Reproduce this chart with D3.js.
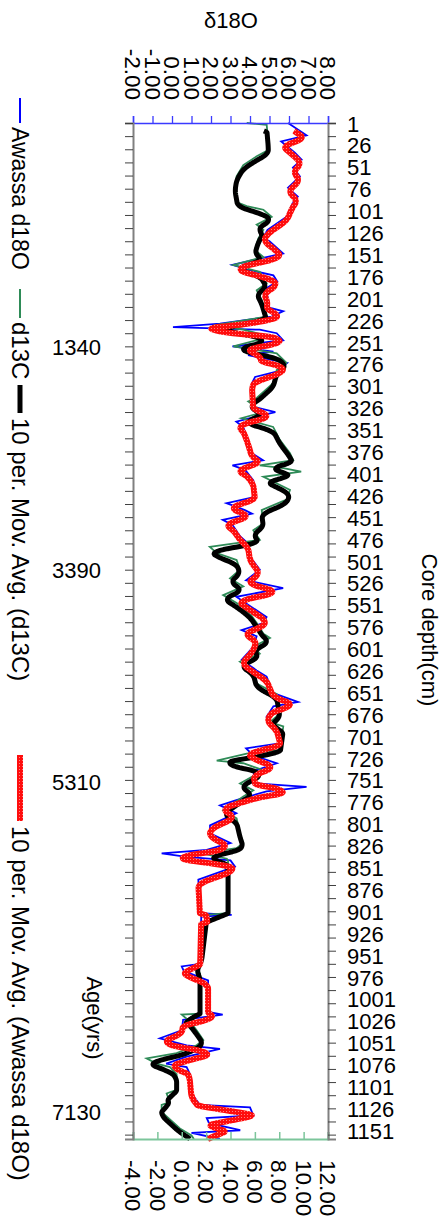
<!DOCTYPE html>
<html>
<head>
<meta charset="utf-8">
<script src="https://cdn.jsdelivr.net/npm/d3@7"></script>
<style>
  body { margin: 0; background: #fff; }
  svg { display: block; }
  text { font-family: "Liberation Sans", Arial, sans-serif; fill: #000; }
</style>
</head>
<body>
<div id="chart"></div>
<script>
// Awassa core: raw isotope series (depth in cm, value in per mil)
const d18oDepth = [0, 14, 21, 34, 42, 51, 61, 74, 84, 91, 107, 122, 131, 135, 149, 154, 162, 168, 174, 181,
  191, 198, 210, 215, 221, 229, 233, 236, 240, 248, 255, 261, 265, 274, 284, 290, 297, 324, 330, 337,
  341, 347, 362, 377, 385, 391, 396, 408, 427, 434, 442, 446, 453, 459, 472, 480, 495, 510, 522, 531,
  541, 550, 564, 571, 579, 586, 598, 613, 625, 632, 651, 661, 666, 678, 689, 708, 714, 722, 731, 740,
  754, 758, 763, 773, 779, 788, 802, 811, 822, 830, 834, 838, 842, 849, 864, 902, 904, 906, 960, 963,
  968, 976, 979, 1015, 1018, 1024, 1036, 1045, 1053, 1057, 1066, 1074, 1078, 1085, 1108, 1121, 1124, 1133, 1136, 1142,
  1150, 1153, 1160];
const d18oValue = [5.95, 6.9, 5.6, 6.3, 6.65, 6.2, 6.56, 5.95, 6.45, 6.2, 5.88, 4.9, 4.67, 5.0, 5.7, 4.67, 3.1, 4.0, 5.2, 5.4,
  4.67, 4.9, 4.85, 5.7, 5.1, 2.46, 0.05, 4.5, 5.37, 5.7, 3.1, 5.2, 3.9, 5.9, 5.36, 4.26, 4.1, 4.17, 5.3, 4.0,
  3.3, 3.65, 3.9, 4.1, 4.67, 3.1, 3.75, 4.17, 4.26, 2.8, 3.74, 4.1, 2.6, 3.1, 3.5, 3.9, 4.0, 4.5, 3.8, 5.7,
  3.3, 3.9, 4.85, 4.67, 3.57, 4.34, 4.17, 3.57, 4.34, 4.85, 5.2, 6.46, 5.2, 4.85, 5.37, 5.6, 3.8, 4.17, 5.37, 4.17,
  4.3, 6.9, 4.85, 3.3, 2.46, 3.3, 1.95, 1.95, 3.0, 1.78, -0.53, 0.75, 3.0, 3.23, 1.35, 1.44, 3.06, 1.5, 1.44, 0.5,
  0.6, 1.5, 1.85, 1.85, 2.6, 0.57, 0.5, -0.62, 0.75, 2.46, 0.75, -0.3, 0.75, 0.9, 1.0, 1.43, 4.0, 4.17, 1.78, 1.9,
  3.5, 1.0, 2.46];

const d13cDepth = [0, 2, 23, 31, 38, 48, 61, 73, 91, 95, 99, 107, 116, 122, 132, 145, 153, 162, 170, 183,
  191, 202, 221, 231, 236, 244, 255, 263, 274, 282, 297, 314, 318, 330, 337, 347, 362, 377, 385, 391,
  394, 398, 404, 419, 430, 442, 457, 465, 476, 484, 491, 499, 510, 520, 529, 539, 548, 560, 571, 583,
  588, 598, 606, 615, 625, 640, 652, 674, 684, 689, 716, 720, 728, 731, 739, 754, 762, 769, 777, 785,
  794, 800, 812, 822, 828, 834, 840, 842, 902, 904, 952, 964, 971, 1017, 1018, 1026, 1036, 1047, 1053, 1062,
  1068, 1074, 1078, 1086, 1104, 1108, 1118, 1121, 1129, 1148, 1156, 1160];
const d13cValue = [5.33, 6.97, 7.1, 7.1, 6.15, 5.05, 4.5, 4.37, 4.6, 5.33, 6.7, 7.38, 6.15, 6.7, 6.28, 6.0, 6.7, 4.23, 6.4, 6.97,
  6.15, 6.56, 6.97, 2.6, 5.05, 7.24, 4.23, 7.79, 8.6, 7.79, 7.5, 6.15, 5.46, 6.7, 4.9, 7.5, 8.06, 8.88, 9.15, 6.4,
  8.33, 9.8, 6.7, 8.88, 8.6, 6.56, 6.7, 5.87, 6.4, 2.3, 2.87, 4.5, 4.78, 3.96, 5.05, 3.4, 4.5, 5.6, 6.15, 6.7,
  7.24, 5.87, 6.4, 4.78, 5.87, 6.15, 7.79, 8.06, 7.24, 8.33, 8.06, 5.33, 2.87, 5.05, 6.7, 4.78, 5.87, 5.05, 4.23, 3.4,
  4.5, 4.6, 4.8, 5.05, 4.5, 1.63, 3.7, 3.8, 3.8, 2.05, 1.63, 1.22, 1.5, 1.5, 0.0, 0.68, 1.22, 1.77, 1.22, -0.42,
  -2.88, -2.06, -0.97, -0.42, -0.42, -1.24, -0.97, -1.65, -1.65, -0.15, 0.8, 1.0];

const depthLabels = [1, 26, 51, 76, 101, 126, 151, 176, 201, 226, 251, 276, 301, 326, 351, 376, 401, 426, 451, 476,
  501, 526, 551, 576, 601, 626, 651, 676, 701, 726, 751, 776, 801, 826, 851, 876, 901, 926, 951, 976,
  1001, 1026, 1051, 1076, 1101, 1126, 1151];
const ageLabels = ["1340", "3390", "5310", "7130"];
const ageDepths = [256, 511, 753, 1129];
const d18oTicks = [-2, -1, 0, 1, 2, 3, 4, 5, 6, 7, 8];
const d13cTicks = [-4, -2, 0, 2, 4, 6, 8, 10, 12];
const legendNames = ["Awassa d18O", "d13C", "10 per. Mov. Avg. (d13C)", "10 per. Mov. Avg. (Awassa d18O)"];

const MA_PERIOD = 10; // trendline period (1 cm steps)

const width = 446, height = 1226;
const plot = { left: 133, right: 328, top: 123, bottom: 1139 };

const svg = d3.select('#chart').append('svg')
  .attr('width', width)
  .attr('height', height);

// red trendline has a speckled look
const pat = svg.append('defs').append('pattern')
  .attr('id', 'redTex')
  .attr('width', 3).attr('height', 3)
  .attr('patternUnits', 'userSpaceOnUse');
pat.append('rect').attr('width', 3).attr('height', 3).attr('fill', '#ff0d0d');
pat.append('rect').attr('x', 1).attr('y', 1).attr('width', 1).attr('height', 1).attr('fill', '#ff8080');

// chart is drawn "sideways": depth runs down the page
const y = d3.scaleLinear().domain([0, 1160]).range([plot.top, plot.bottom]);
const xO = d3.scaleLinear().domain([-2, 8]).range([plot.left, plot.right]);
const xC = d3.scaleLinear().domain([-4, 12]).range([plot.left, plot.right]);

// trailing moving average trendline, like the spreadsheet's
function movingAvg(depths, values) {
  const f = d3.scaleLinear().domain(depths).range(values);
  const out = [];
  for (let d = depths[0] + MA_PERIOD - 1; d <= depths[depths.length - 1]; d++) {
    out.push([d, d3.mean(d3.range(d - MA_PERIOD + 1, d + 1), t => f(t))]);
  }
  return out;
}

const d18o = d18oDepth.map((d, i) => [d, d18oValue[i]]);
const d13c = d13cDepth.map((d, i) => [d, d13cValue[i]]);
const maC = movingAvg(d13cDepth, d13cValue);
const maO = movingAvg(d18oDepth, d18oValue);

const lineO = d3.line().x(d => xO(d[1])).y(d => y(d[0]));
const lineC = d3.line().x(d => xC(d[1])).y(d => y(d[0]));

const series = svg.append('g').attr('class', 'series');
series.append('path').datum(d18o).attr('d', lineO)
  .attr('fill', 'none').attr('stroke', '#0000ff').attr('stroke-width', 1.8);
series.append('path').datum(d13c).attr('d', lineC)
  .attr('fill', 'none').attr('stroke', '#2e8b57').attr('stroke-width', 1.8);
series.append('path').datum(maC).attr('d', lineC)
  .attr('fill', 'none').attr('stroke', '#000').attr('stroke-width', 5)
  .attr('stroke-linejoin', 'round');
series.append('path').datum(maO).attr('d', lineO)
  .attr('fill', 'none').attr('stroke', 'url(#redTex)').attr('stroke-width', 6)
  .attr('stroke-linejoin', 'round');

// top axis (d18O)
const topAxis = svg.append('g')
  .attr('transform', `translate(0,${plot.top})`)
  .call(d3.axisTop(xO).tickValues(d18oTicks).tickSize(7).tickFormat(''));
topAxis.select('.domain').attr('stroke', '#3a3aff').attr('stroke-width', 1.5);
topAxis.selectAll('.tick line').attr('stroke', '#3a3aff').attr('stroke-width', 1.3);
svg.append('g').selectAll('text').data(d18oTicks).join('text')
  .attr('transform', d => `translate(${xO(d)},100) rotate(90)`)
  .attr('text-anchor', 'end').attr('dy', '0.35em')
  .attr('font-size', 22.5)
  .text(d => d.toFixed(2));

// bottom axis (d13C)
const botAxis = svg.append('g')
  .attr('transform', `translate(0,${plot.bottom})`)
  .call(d3.axisTop(xC).tickValues(d13cTicks).tickSize(7).tickFormat(''));
botAxis.select('.domain').attr('stroke', '#7cc59b').attr('stroke-width', 2);
botAxis.selectAll('.tick line').attr('stroke', '#7cc59b').attr('stroke-width', 1.5);
svg.append('g').selectAll('text').data(d13cTicks).join('text')
  .attr('transform', d => `translate(${xC(d)},1160) rotate(90)`)
  .attr('text-anchor', 'start').attr('dy', '0.35em')
  .attr('font-size', 22.5)
  .text(d => d.toFixed(2));

// depth ticks every 15 cm on both side axes
const tickDepths = d3.range(0, 1161, 15);
const rightAxis = svg.append('g')
  .attr('transform', `translate(${plot.right},0)`)
  .call(d3.axisRight(y).tickValues(tickDepths).tickSize(8).tickFormat(''));
const leftAxis = svg.append('g')
  .attr('transform', `translate(${plot.left},0)`)
  .call(d3.axisLeft(y).tickValues(tickDepths).tickSize(8).tickFormat(''));
[rightAxis, leftAxis].forEach(a => {
  a.select('.domain').attr('stroke', '#808080').attr('stroke-width', 2);
  a.selectAll('.tick line').attr('stroke', '#404040').attr('stroke-width', 1);
});

svg.append('g').selectAll('text').data(depthLabels).join('text')
  .attr('x', 347).attr('y', d => y(d)).attr('dy', '0.35em')
  .attr('font-size', 22)
  .text(d => d);

svg.append('g').selectAll('text').data(ageLabels).join('text')
  .attr('x', 101).attr('y', (d, i) => y(ageDepths[i])).attr('dy', '0.35em')
  .attr('text-anchor', 'end')
  .attr('font-size', 22)
  .text(d => d);

// titles
svg.append('text').attr('x', 231).attr('y', 28).attr('text-anchor', 'middle')
  .attr('font-size', 22).text('δ18O');
svg.append('text').attr('transform', 'translate(430,630) rotate(90)')
  .attr('text-anchor', 'middle').attr('dy', '0.35em')
  .attr('font-size', 22).text('Core depth(cm)');
svg.append('text').attr('transform', 'translate(95,1018) rotate(90)')
  .attr('text-anchor', 'middle').attr('dy', '0.35em')
  .attr('font-size', 22).text('Age(yrs)');

// legend, rotated like the rest of the chart
const legendStyles = [
  { stroke: '#0000ff', w: 2 },
  { stroke: '#2e8b57', w: 2 },
  { stroke: '#000', w: 5 },
  { stroke: 'url(#redTex)', w: 6 }
];
const legendLine = [[98, 123], [289, 318], [385, 413], [755, 821]];
const legendText = [127, 322, 418, 826];
const legend = svg.append('g').attr('class', 'legend');
legendNames.forEach((name, i) => {
  legend.append('line')
    .attr('x1', 20).attr('x2', 20)
    .attr('y1', legendLine[i][0]).attr('y2', legendLine[i][1])
    .attr('stroke', legendStyles[i].stroke).attr('stroke-width', legendStyles[i].w);
  legend.append('text')
    .attr('transform', `translate(20,${legendText[i]}) rotate(90)`)
    .attr('dy', '0.35em')
    .attr('font-size', i === 0 ? 23 : 24)
    .text(name);
});
</script>
</body>
</html>
